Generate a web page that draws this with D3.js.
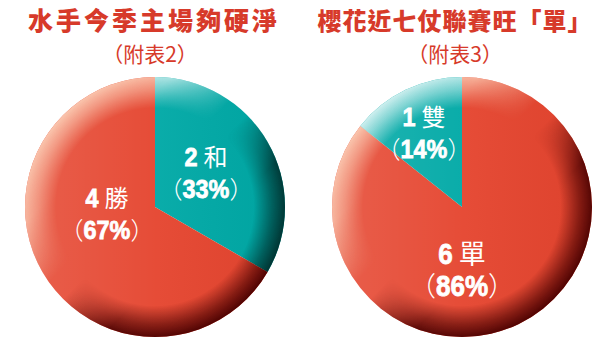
<!DOCTYPE html>
<html><head><meta charset="utf-8">
<script src="https://cdn.jsdelivr.net/npm/d3@7"></script>
<style>
html,body{margin:0;padding:0;background:#fff;}
svg{display:block;}
</style></head>
<body>
<svg id="chart" width="612" height="338"></svg>
<script>
// ---------- data ----------
const titles = ["水手今季主場夠硬淨", "櫻花近七仗聯賽旺「單」"];
const subtitles = ["（附表2）", "（附表3）"];
const pie1Categories = ["和", "勝"];
const pie1Values = [2, 4];
const pie1Percents = ["33%", "67%"];
const pie2Categories = ["單", "雙"];
const pie2Values = [6, 1];
const pie2Percents = ["86%", "14%"];

// ---------- layout / style ----------
const RED = "#e5452f", TEAL = "#00a9a6", TITLE_RED = "#d73a2a";
const colorOf = {"和": TEAL, "勝": RED, "單": RED, "雙": TEAL};
const R = 130;
const pies = [
  {cx: 155, cy: 207, cats: pie1Categories, vals: pie1Values, pcts: pie1Percents,
   titleX: 154, labels: {"和": {dx: 51, dy: -41, fs: 24}, "勝": {dx: -48, dy: 0, fs: 24}}},
  {cx: 462, cy: 207, cats: pie2Categories, vals: pie2Values, pcts: pie2Percents,
   titleX: 455, labels: {"單": {dx: 0, dy: 57, fs: 27}, "雙": {dx: -38, dy: -81, fs: 24}}}
];
const DIGIT_FONT = "'Liberation Sans',Arial,sans-serif";
const CJK_FONT = "'Noto Sans CJK TC',sans-serif";

const svg = d3.select("#chart");
const defs = svg.append("defs");

// ring mask (opaque near rim)
const rg = defs.append("radialGradient").attr("id", "ringGrad")
  .attr("gradientUnits", "userSpaceOnUse").attr("cx", 0).attr("cy", 0).attr("r", R);
[[0, "#000"], [0.76, "#000"], [0.9, "#a0a0a0"], [1, "#fff"]].forEach(([o, c]) =>
  rg.append("stop").attr("offset", o).attr("stop-color", c));
defs.append("mask").attr("id", "ringMask")
  .append("circle").attr("r", R + 2).attr("fill", "url(#ringGrad)");

// per-colour bevel gradients
const shades = {
  red: {light: "#fac8b0", dark: "#4e0302"},
  teal: {light: "#d2f0f0", dark: "#003331"}
};
Object.entries(shades).forEach(([k, s]) => {
  const g = defs.append("linearGradient").attr("id", "bevel-" + k)
    .attr("gradientUnits", "userSpaceOnUse")
    .attr("x1", -95).attr("y1", -95).attr("x2", 95).attr("y2", 95);
  [[0, s.light, 1], [0.2, s.light, 0.8], [0.42, s.light, 0], [0.5, s.dark, 0], [0.7, s.dark, 0.92], [1, s.dark, 1]]
    .forEach(([o, c, op]) =>
      g.append("stop").attr("offset", o).attr("stop-color", c).attr("stop-opacity", op));
});
// horizontal interior shading
const hg = defs.append("linearGradient").attr("id", "hshade")
  .attr("gradientUnits", "userSpaceOnUse").attr("x1", -R).attr("y1", 0).attr("x2", R).attr("y2", 0);
[[0, "#fff", 0.14], [0.5, "#fff", 0.04], [1, "#000", 0.03]].forEach(([o, c, op]) =>
  hg.append("stop").attr("offset", o).attr("stop-color", c).attr("stop-opacity", op));

const pieGen = d3.pie().sort(null).value(d => d.v);
const arcGen = d3.arc().innerRadius(0).outerRadius(R);

// lay out a line of mixed-font pieces centred at (x, y)
function richLine(parent, x, y, pieces) {
  const g = parent.append("g").attr("transform", `translate(${x},${y})`);
  const els = pieces.map(pc => {
    const t = g.append("text").attr("fill", "#fff")
      .attr("font-family", pc.family).attr("font-weight", pc.weight)
      .attr("font-size", pc.size).text(pc.text);
    if (pc.stroke) t.attr("stroke", "#fff").attr("stroke-width", pc.stroke);
    return t;
  });
  const widths = els.map((t, i) => t.node().getComputedTextLength() * (pieces[i].sx || 1) + (pieces[i].gap || 0));
  let cur = -d3.sum(widths) / 2;
  els.forEach((t, i) => {
    t.attr("transform", `translate(${cur},0) scale(${pieces[i].sx || 1},1)`);
    cur += widths[i];
  });
  return g;
}

pies.forEach(p => {
  const data = p.cats.map((c, i) => ({c, v: p.vals[i], pct: p.pcts[i]}));
  const arcs = pieGen(data);
  const g = svg.append("g").attr("transform", `translate(${p.cx},${p.cy})`);

  g.selectAll("path.slice").data(arcs).join("path").attr("class", "slice")
    .attr("d", arcGen).attr("fill", d => colorOf[d.data.c]);
  g.selectAll("path.hs").data(arcs).join("path").attr("class", "hs")
    .attr("d", arcGen).attr("fill", "url(#hshade)");
  g.selectAll("path.bevel").data(arcs).join("path").attr("class", "bevel")
    .attr("d", arcGen)
    .attr("fill", d => colorOf[d.data.c] === RED ? "url(#bevel-red)" : "url(#bevel-teal)")
    .attr("mask", "url(#ringMask)");

  // labels
  arcs.forEach(a => {
    const L = p.labels[a.data.c];
    const ds = L.fs + 2;
    richLine(g, L.dx, L.dy, [
      {text: String(a.data.v), family: DIGIT_FONT, weight: "bold", size: ds, sx: 0.9, stroke: 0.8, gap: 6},
      {text: a.data.c, family: CJK_FONT, weight: 400, size: L.fs}
    ]);
    richLine(g, L.dx, L.dy + 32, [
      {text: "（", family: CJK_FONT, weight: 300, size: L.fs},
      {text: a.data.pct, family: DIGIT_FONT, weight: "bold", size: ds, sx: 0.9, stroke: 0.8},
      {text: "）", family: CJK_FONT, weight: 300, size: L.fs}
    ]);
  });
});

// titles
pies.forEach((p, i) => {
  svg.append("text").attr("x", p.titleX).attr("y", 30).attr("text-anchor", "middle")
    .attr("font-family", CJK_FONT).attr("font-weight", 900)
    .attr("font-size", i === 0 ? 25 : 24).attr("letter-spacing", i === 0 ? 3 : 1)
    .attr("fill", TITLE_RED).text(titles[i]);
  svg.append("text").attr("x", p.titleX - (i === 0 ? 4 : 0)).attr("y", 62).attr("text-anchor", "middle")
    .attr("font-family", CJK_FONT).attr("font-weight", 400)
    .attr("font-size", 21).attr("fill", TITLE_RED).text(subtitles[i]);
});
</script>
</body></html>
